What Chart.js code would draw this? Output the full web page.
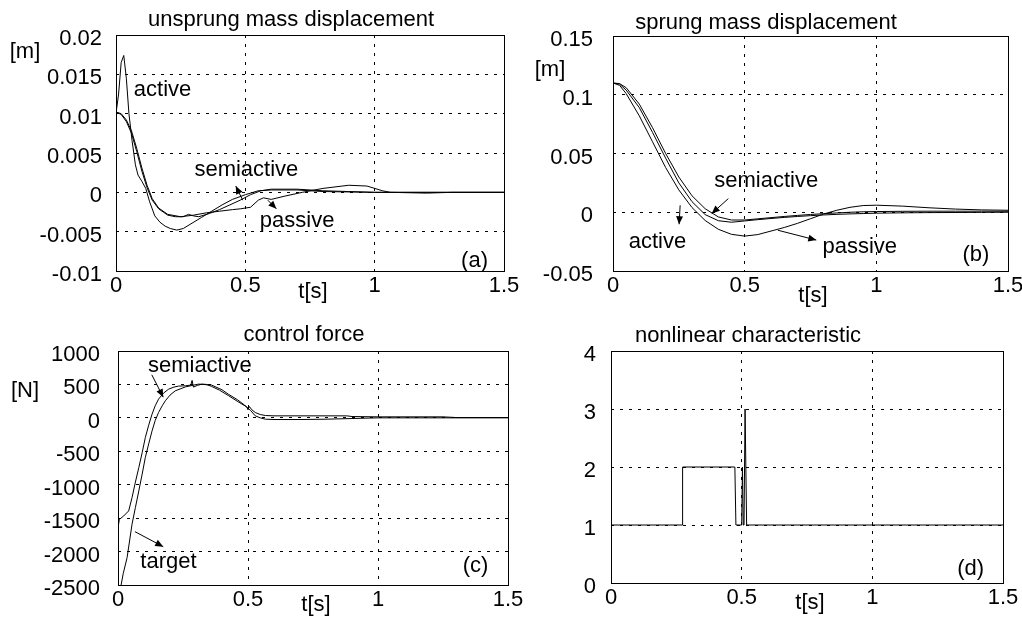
<!DOCTYPE html>
<html>
<head>
<meta charset="utf-8">
<script src="https://cdn.jsdelivr.net/npm/chart.js@4.4.1/dist/chart.umd.min.js"></script>
<style>
  html, body { margin: 0; padding: 0; background: #fff; }
  #wrap { position: relative; width: 1022px; height: 618px; overflow: hidden; }
  canvas { position: absolute; left: 0; top: 0; width: 1022px; height: 618px; }
</style>
</head>
<body>
<div id="wrap">
  <canvas id="ca" width="1022" height="618"></canvas>
  <canvas id="cb" width="1022" height="618"></canvas>
  <canvas id="cc" width="1022" height="618"></canvas>
  <canvas id="cd" width="1022" height="618"></canvas>
</div>
<script>
// ---- data ----
const xTicks = [0, 0.5, 1, 1.5];
const xTickLabels = ['0', '0.5', '1', '1.5'];

// (a) unsprung mass displacement [m]
const aTicks = [-0.01, -0.005, 0, 0.005, 0.01, 0.015, 0.02];
const aTickLabels = ['-0.01', '-0.005', '0', '0.005', '0.01', '0.015', '0.02'];
const aActiveT = [0, 0.01, 0.02, 0.03, 0.04, 0.05, 0.062, 0.075, 0.085, 0.1, 0.115, 0.13, 0.15, 0.17, 0.19, 0.21, 0.235, 0.26, 0.29, 0.33, 0.37, 0.41, 0.45, 0.5, 0.55, 0.6, 0.7, 0.8, 1.0, 1.5];
const aActive = [0.0100, 0.0125, 0.0165, 0.0174, 0.0145, 0.0100, 0.0066, 0.0035, 0.0022, 0.0014, 0.0005, -0.0012, -0.0030, -0.0038, -0.0043, -0.0046, -0.0048, -0.0046, -0.0040, -0.0032, -0.0024, -0.0016, -0.0009, -0.0003, 0.0002, 0.0003, 0.0003, 0.0001, 0.0000, 0.0000];
const aSemiT = [0, 0.02, 0.04, 0.06, 0.08, 0.1, 0.12, 0.14, 0.165, 0.2, 0.23, 0.26, 0.28, 0.3, 0.32, 0.36, 0.4, 0.44, 0.48, 0.52, 0.56, 0.6, 0.7, 0.8, 0.9, 1.0, 1.5];
const aSemi = [0.0102, 0.0099, 0.0090, 0.0075, 0.0052, 0.0027, 0.0006, -0.0010, -0.0021, -0.0029, -0.0031, -0.0031, -0.0028, -0.0030, -0.0031, -0.0027, -0.0022, -0.0016, -0.0010, -0.0003, 0.0002, 0.0004, 0.0004, 0.0002, 0.0001, 0.0000, 0.0000];
const aPassT = [0, 0.02, 0.04, 0.06, 0.08, 0.1, 0.12, 0.14, 0.165, 0.2, 0.25, 0.3, 0.35, 0.4, 0.45, 0.48, 0.52, 0.55, 0.57, 0.6, 0.65, 0.72, 0.8, 0.9, 0.97, 1.03, 1.06, 1.2, 1.3, 1.5];
const aPass = [0.0102, 0.0100, 0.0092, 0.0078, 0.0056, 0.0031, 0.0009, -0.0008, -0.0020, -0.0028, -0.0031, -0.0029, -0.0026, -0.0024, -0.0022, -0.0021, -0.0019, -0.0010, -0.0007, -0.0009, -0.0005, 0.0000, 0.0005, 0.0009, 0.0008, 0.0002, 0.0000, -0.0001, 0.0000, 0.0000];

// (b) sprung mass displacement [m]
const bTicks = [-0.05, 0, 0.05, 0.1, 0.15];
const bTickLabels = ['-0.05', '0', '0.05', '0.1', '0.15'];
const bT = [0, 0.025, 0.05, 0.1, 0.15, 0.2, 0.25, 0.3, 0.35, 0.4, 0.45, 0.5, 0.55, 0.6, 0.65, 0.7, 0.75, 0.8, 0.85, 0.9, 0.95, 1.0, 1.1, 1.2, 1.3, 1.4, 1.5];
const bPassive = [0.110, 0.108, 0.101, 0.082, 0.060, 0.038, 0.019, 0.004, -0.007, -0.0145, -0.0188, -0.0203, -0.019, -0.016, -0.013, -0.0095, -0.0055, -0.0015, 0.0017, 0.0042, 0.0057, 0.0060, 0.0052, 0.0038, 0.0027, 0.0020, 0.0017];
const bActive = [0.110, 0.109, 0.104, 0.089, 0.068, 0.046, 0.025, 0.009, -0.002, -0.0072, -0.0085, -0.0074, -0.0063, -0.0053, -0.0044, -0.0036, -0.0029, -0.0023, -0.0018, -0.0014, -0.0011, -0.0008, -0.0005, -0.0003, -0.0002, -0.0001, 0.0000];
const bSemi = [0.110, 0.1095, 0.106, 0.092, 0.072, 0.050, 0.030, 0.014, 0.003, -0.0040, -0.0066, -0.0066, -0.0056, -0.0046, -0.0036, -0.0027, -0.0019, -0.0012, -0.0006, 0.0000, 0.0004, 0.0006, 0.0008, 0.0009, 0.0009, 0.0009, 0.0008];

// (c) control force [N]
const cTicks = [-2500, -2000, -1500, -1000, -500, 0, 500, 1000];
const cTickLabels = ['-2500', '-2000', '-1500', '-1000', '-500', '0', '500', '1000'];
const cSemiT = [0, 0.005, 0.022, 0.041, 0.054, 0.067, 0.08, 0.093, 0.105, 0.118, 0.131, 0.143, 0.156, 0.175, 0.195, 0.215, 0.233, 0.26, 0.28, 0.285, 0.29, 0.305, 0.323, 0.34, 0.36, 0.39, 0.426, 0.45, 0.477, 0.495, 0.5, 0.505, 0.515, 0.528, 0.547, 0.567, 0.6, 0.7, 0.88, 0.9, 1.0, 1.25, 1.3, 1.5];
const cSemi = [-1650, -1520, -1467, -1392, -1193, -960, -744, -520, -295, -110, 55, 180, 280, 370, 430, 460, 475, 480, 490, 560, 460, 485, 505, 500, 470, 415, 330, 270, 205, 165, 120, 170, 120, 80, 50, 35, 30, 30, 30, 20, 15, 15, 5, 5];
const cTargetT = [0.012, 0.02, 0.035, 0.054, 0.067, 0.08, 0.093, 0.105, 0.118, 0.131, 0.143, 0.156, 0.17, 0.182, 0.2, 0.22, 0.26, 0.31, 0.36, 0.4, 0.426, 0.46, 0.485, 0.51, 0.528, 0.547, 0.567, 0.6, 0.7, 0.8, 0.9, 1.0, 1.5];
const cTarget = [-2500, -2330, -2090, -1590, -1340, -1093, -840, -594, -390, -195, -40, 80, 180, 255, 340, 404, 464, 505, 490, 420, 350, 270, 195, 110, 30, 0, -20, -25, -25, -20, -10, 0, 0];

// (d) nonlinear characteristic
const dTicks = [0, 1, 2, 3, 4];
const dTickLabels = ['0', '1', '2', '3', '4'];
const dT = [0, 0.274, 0.274, 0.474, 0.478, 0.500, 0.503, 0.506, 0.509, 0.513, 0.519, 1.5];
const dVal = [1, 1, 2, 2, 1, 1, 2, 1, 1, 3, 1, 1];

// ---- drawing ----
const FONT = { family: '"Liberation Sans", Arial, Helvetica, sans-serif', size: 22 };
const FONT_CSS = '22px "Liberation Sans", Arial, Helvetica, sans-serif';
const AXIS_W = 110, AXIS_H = 30;

function pts(xs, ys) { return xs.map((x, i) => ({ x: x, y: ys[i] })); }

function line(xs, ys) {
  return { data: pts(xs, ys), showLine: true, borderColor: '#000', borderWidth: 1, pointRadius: 0, tension: 0, fill: false };
}

function gridColor(min, max) {
  return c => (c.tick && c.tick.value > min && c.tick.value < max) ? '#000' : 'rgba(0,0,0,0)';
}

function arrow(ctx, x1, y1, x2, y2) {
  const a = Math.atan2(y2 - y1, x2 - x1), len = 8, w = 3.5;
  ctx.beginPath(); ctx.moveTo(x1, y1); ctx.lineTo(x2, y2); ctx.stroke();
  ctx.beginPath();
  ctx.moveTo(x2, y2);
  ctx.lineTo(x2 - len * Math.cos(a) + w * Math.sin(a), y2 - len * Math.sin(a) - w * Math.cos(a));
  ctx.lineTo(x2 - len * Math.cos(a) - w * Math.sin(a), y2 - len * Math.sin(a) + w * Math.cos(a));
  ctx.closePath(); ctx.fill();
}

const notesPlugin = {
  id: 'notes',
  afterDraw(chart) {
    const n = chart.options.plugins.notes;
    const ctx = chart.ctx, a = chart.chartArea;
    const xs = chart.scales.x, ys = chart.scales.y;
    ctx.save();
    ctx.strokeStyle = '#000'; ctx.fillStyle = '#000'; ctx.lineWidth = 1;
    ctx.strokeRect(Math.round(a.left) + 0.5, Math.round(a.top) + 0.5, Math.round(a.right - a.left), Math.round(a.bottom - a.top));
    ctx.font = FONT_CSS; ctx.textAlign = 'center'; ctx.textBaseline = 'middle';
    ctx.fillText(n.title[0], n.title[1], n.title[2]);
    if (n.unit) ctx.fillText(n.unit[0], n.unit[1], n.unit[2]);
    ctx.fillText(n.xlabel[0], n.xlabel[1], n.xlabel[2]);
    n.texts.forEach(t => ctx.fillText(t[0], xs.getPixelForValue(t[1]), ys.getPixelForValue(t[2])));
    n.arrows.forEach(r => arrow(ctx, xs.getPixelForValue(r[0]), ys.getPixelForValue(r[1]), xs.getPixelForValue(r[2]), ys.getPixelForValue(r[3])));
    ctx.restore();
  }
};

function makePanel(id, box, yMin, yMax, yTicks, yLabels, yPad, datasets, notes) {
  return new Chart(document.getElementById(id), {
    type: 'scatter',
    data: { datasets: datasets },
    plugins: [notesPlugin],
    options: {
      responsive: false, animation: false, devicePixelRatio: 1,
      layout: { padding: { left: box.left - AXIS_W, top: box.top, right: 1022 - box.right, bottom: 618 - box.bottom - AXIS_H } },
      plugins: { legend: { display: false }, tooltip: { enabled: false }, notes: notes },
      scales: {
        x: {
          type: 'linear', min: 0, max: 1.5,
          afterBuildTicks: s => { s.ticks = xTicks.map(v => ({ value: v })); },
          afterFit: s => { s.height = AXIS_H; s.paddingLeft = 0; s.paddingRight = 0; },
          ticks: { callback: (v, i) => xTickLabels[i], font: FONT, color: '#000', padding: 2, maxRotation: 0, autoSkip: false },
          grid: { drawTicks: false, color: gridColor(0, 1.5), lineWidth: 1 },
          border: { display: false, dash: [3, 6] }
        },
        y: {
          type: 'linear', min: yMin, max: yMax,
          afterBuildTicks: s => { s.ticks = yTicks.map(v => ({ value: v })); },
          afterFit: s => { s.width = AXIS_W; s.paddingTop = 0; s.paddingBottom = 0; },
          ticks: { callback: (v, i) => yLabels[i], font: FONT, color: '#000', padding: yPad, labelOffset: 4, autoSkip: false },
          grid: { drawTicks: false, color: gridColor(yMin, yMax), lineWidth: 1 },
          border: { display: false, dash: [3, 6] }
        }
      }
    }
  });
}

makePanel('ca', { left: 116, top: 35, right: 504, bottom: 271 }, -0.01, 0.02, aTicks, aTickLabels, 14,
  [line(aPassT, aPass), line(aSemiT, aSemi), line(aActiveT, aActive)],
  {
    title: ['unsprung mass displacement', 291, 20], unit: ['[m]', 25, 52], xlabel: ['t[s]', 313, 292],
    texts: [['active', 0.18, 0.013], ['semiactive', 0.504, 0.0029], ['passive', 0.70, -0.0036], ['(a)', 1.386, -0.0087]],
    arrows: [[0.49, -0.001, 0.463, 0.0008], [0.587, -0.001, 0.62, -0.0021]]
  });

makePanel('cb', { left: 613, top: 36, right: 1008, bottom: 271 }, -0.05, 0.15, bTicks, bTickLabels, 20,
  [line(bT, bPassive), line(bT, bActive), line(bT, bSemi)],
  {
    title: ['sprung mass displacement', 766, 23], unit: ['[m]', 550, 70], xlabel: ['t[s]', 813, 296],
    texts: [['semiactive', 0.582, 0.0263], ['active', 0.169, -0.0254], ['passive', 0.937, -0.0297], ['(b)', 1.378, -0.0364]],
    arrows: [[0.438, 0.0116, 0.375, -0.0011], [0.255, 0.0059, 0.251, -0.0102], [0.626, -0.0153, 0.772, -0.0237]]
  });

makePanel('cc', { left: 118, top: 351, right: 508, bottom: 585 }, -2500, 1000, cTicks, cTickLabels, 18,
  [line(cSemiT, cSemi), line(cTargetT, cTarget)],
  {
    title: ['control force', 304, 335], unit: ['[N]', 25, 391], xlabel: ['t[s]', 316, 605],
    texts: [['semiactive', 0.315, 778], ['target', 0.194, -2156], ['(c)', 1.375, -2216]],
    arrows: [[0.13, 644, 0.174, 310], [0.065, -1702, 0.174, -1927]]
  });

makePanel('cd', { left: 611, top: 351, right: 1003, bottom: 583 }, 0, 4, dTicks, dTickLabels, 15,
  [line(dT, dVal)],
  {
    title: ['nonlinear characteristic', 748, 336], unit: null, xlabel: ['t[s]', 810, 603],
    texts: [['(d)', 1.376, 0.24]],
    arrows: []
  });
</script>
</body>
</html>
